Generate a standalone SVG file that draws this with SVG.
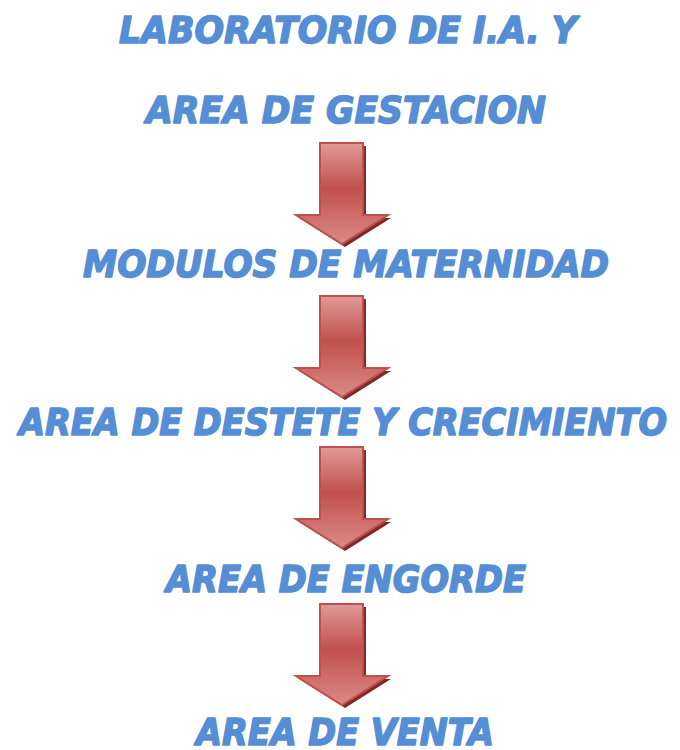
<svg xmlns="http://www.w3.org/2000/svg" width="680" height="750" viewBox="0 0 680 750">
<defs>
<style>
.t{font-family:"DejaVu Sans",Verdana,sans-serif;font-weight:bold;font-style:italic;font-size:37px;fill:#558ed5;stroke:#558ed5;stroke-width:1.6;stroke-linejoin:round}
.ar{fill:url(#g);stroke:#c0504d;stroke-width:2;stroke-linejoin:miter}
.sh{fill:#7f2a28}
</style>
<linearGradient id="g" x1="0" y1="0" x2="0" y2="1">
<stop offset="0" stop-color="#e09a98"/>
<stop offset="0.45" stop-color="#c0504d"/>
<stop offset="1" stop-color="#dc8a88"/>
</linearGradient>
<g id="arrowShape">
<path class="sh" d="M325,3 H366 V75 H391 L345,104 L299,75 H325 Z"/>
<path class="ar" d="M320,0 H363 V72 H388 L342,101 L296,72 H320 Z"/>
</g>
</defs>
<rect width="680" height="750" fill="#fff"/>
<g id="n1"><text class="t" x="119" y="43" textLength="458" lengthAdjust="spacingAndGlyphs">LABORATORIO DE I.A. Y</text>
<text class="t" x="146" y="123" textLength="400" lengthAdjust="spacingAndGlyphs">AREA DE GESTACION</text></g>
<g id="n2"><text class="t" x="83" y="277" textLength="526" lengthAdjust="spacingAndGlyphs">MODULOS DE MATERNIDAD</text></g>
<g id="n3"><text class="t" x="19" y="435" textLength="648" lengthAdjust="spacingAndGlyphs">AREA DE DESTETE Y CRECIMIENTO</text></g>
<g id="n4"><text class="t" x="166" y="592" textLength="360" lengthAdjust="spacingAndGlyphs">AREA DE ENGORDE</text></g>
<g id="n5"><text class="t" x="196" y="745" textLength="298" lengthAdjust="spacingAndGlyphs">AREA DE VENTA</text></g>
<g id="connectors">
<use href="#arrowShape" y="143"/>
<use href="#arrowShape" y="296"/>
<use href="#arrowShape" y="447"/>
<use href="#arrowShape" y="604"/>
</g>
</svg>
